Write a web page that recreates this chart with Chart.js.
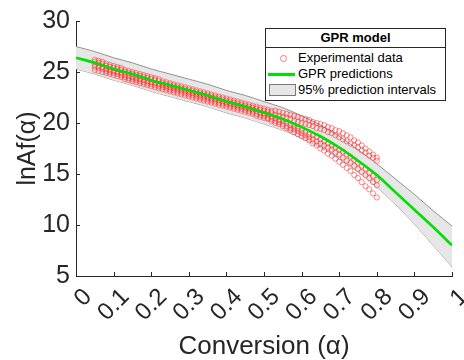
<!DOCTYPE html>
<html>
<head>
<meta charset="utf-8">
<script src="https://cdn.jsdelivr.net/npm/chart.js@4.4.1/dist/chart.umd.min.js"></script>
<style>
    html, body { margin: 0; padding: 0; background: #fff; }
    #wrap { position: relative; width: 464px; height: 360px; }
    #legend {
        position: absolute; left: 265px; top: 28px; width: 179px;
        border: 1px solid #262626; background: #fff;
        font-family: 'Liberation Sans', Arial, sans-serif; font-size: 13px; color: #000;
    }
    #legend .head { height: 18px; line-height: 18px; text-align: center; font-weight: bold; border-bottom: 1px solid #262626; }
    #legend .rows { padding: 2px 0; }
    #legend .row { position: relative; height: 16px; line-height: 16px; }
    #legend .row span.txt { position: absolute; left: 32px; top: 0; white-space: nowrap; }
    #legend .mk { position: absolute; }
</style>
</head>
<body>
<div id="wrap">
    <canvas id="chart" width="464" height="360"></canvas>
    <div id="legend"></div>
</div>
<script>
// conversion values of the measured points
const alphaExp = [0.05, 0.06, 0.07, 0.08, 0.09, 0.10, 0.11, 0.12, 0.13, 0.14, 0.15, 0.16, 0.17, 0.18, 0.19, 0.20,
    0.21, 0.22, 0.23, 0.24, 0.25, 0.26, 0.27, 0.28, 0.29, 0.30, 0.31, 0.32, 0.33, 0.34, 0.35, 0.36, 0.37, 0.38, 0.39, 0.40,
    0.41, 0.42, 0.43, 0.44, 0.45, 0.46, 0.47, 0.48, 0.49, 0.50, 0.51, 0.52, 0.53, 0.54, 0.55, 0.56, 0.57, 0.58, 0.59, 0.60,
    0.61, 0.62, 0.63, 0.64, 0.65, 0.66, 0.67, 0.68, 0.69, 0.70, 0.71, 0.72, 0.73, 0.74, 0.75, 0.76, 0.77, 0.78, 0.79, 0.80];

// lnAf(alpha), one array per experimental run
const expRun1 = [26.2, 26.1, 26.0, 25.8, 25.7, 25.6, 25.5, 25.4, 25.2, 25.1, 25.0, 24.9, 24.8, 24.7, 24.6, 24.5,
    24.4, 24.3, 24.1, 24.0, 23.9, 23.8, 23.7, 23.6, 23.5, 23.4, 23.3, 23.2, 23.1, 23.0, 22.9, 22.8, 22.7, 22.6, 22.5, 22.4,
    22.3, 22.2, 22.1, 22.0, 21.9, 21.8, 21.7, 21.6, 21.5, 21.4, 21.3, 21.2, 21.2, 21.1, 21.0, 20.9, 20.8, 20.7, 20.6, 20.5,
    20.4, 20.3, 20.1, 20.0, 19.9, 19.8, 19.6, 19.5, 19.3, 19.2, 19.0, 18.8, 18.6, 18.3, 18.1, 17.8, 17.5, 17.2, 16.9, 16.6];
const expRun2 = [26.0, 25.9, 25.8, 25.6, 25.5, 25.4, 25.3, 25.2, 25.0, 24.9, 24.8, 24.7, 24.6, 24.5, 24.4, 24.3,
    24.2, 24.1, 23.9, 23.8, 23.7, 23.6, 23.5, 23.4, 23.3, 23.2, 23.1, 23.0, 22.9, 22.8, 22.7, 22.6, 22.5, 22.4, 22.3, 22.2,
    22.1, 22.0, 21.9, 21.8, 21.7, 21.6, 21.5, 21.4, 21.3, 21.2, 21.1, 21.0, 20.8, 20.7, 20.6, 20.5, 20.4, 20.2, 20.1, 20.0,
    19.9, 19.8, 19.7, 19.5, 19.4, 19.3, 19.1, 19.0, 18.8, 18.6, 18.4, 18.2, 18.0, 17.8, 17.6, 17.3, 17.1, 16.8, 16.6, 16.3];
const expRun3 = [25.7, 25.6, 25.5, 25.3, 25.2, 25.1, 25.0, 24.9, 24.7, 24.6, 24.5, 24.4, 24.3, 24.2, 24.1, 24.0,
    23.9, 23.8, 23.7, 23.6, 23.5, 23.4, 23.3, 23.2, 23.1, 23.0, 22.9, 22.8, 22.7, 22.6, 22.5, 22.4, 22.3, 22.2, 22.1, 22.0,
    21.9, 21.8, 21.7, 21.6, 21.5, 21.4, 21.3, 21.2, 21.0, 20.9, 20.8, 20.6, 20.5, 20.3, 20.2, 20.0, 19.8, 19.7, 19.5, 19.3,
    19.1, 18.9, 18.8, 18.6, 18.4, 18.2, 18.0, 17.8, 17.6, 17.4, 17.2, 16.9, 16.7, 16.4, 16.1, 15.8, 15.5, 15.1, 14.8, 14.4];
const expRun4 = [25.5, 25.4, 25.3, 25.1, 25.0, 24.9, 24.8, 24.7, 24.5, 24.4, 24.3, 24.2, 24.1, 24.0, 23.9, 23.8,
    23.7, 23.6, 23.5, 23.4, 23.3, 23.2, 23.1, 23.0, 22.9, 22.8, 22.7, 22.6, 22.5, 22.4, 22.3, 22.2, 22.1, 22.0, 21.9, 21.8,
    21.7, 21.6, 21.5, 21.4, 21.3, 21.2, 21.1, 20.9, 20.8, 20.7, 20.5, 20.4, 20.2, 20.1, 19.9, 19.7, 19.5, 19.4, 19.2, 19.0,
    18.8, 18.6, 18.4, 18.2, 18.0, 17.8, 17.6, 17.4, 17.1, 16.9, 16.6, 16.3, 16.1, 15.8, 15.5, 15.2, 14.9, 14.6, 14.2, 13.9];
const expRun5 = [25.2, 25.1, 25.0, 24.9, 24.8, 24.7, 24.6, 24.5, 24.3, 24.2, 24.1, 24.0, 23.9, 23.8, 23.7, 23.6,
    23.5, 23.4, 23.3, 23.2, 23.1, 23.0, 22.9, 22.8, 22.7, 22.6, 22.5, 22.4, 22.3, 22.2, 22.1, 22.0, 21.9, 21.8, 21.7, 21.6,
    21.5, 21.4, 21.3, 21.2, 21.1, 21.0, 20.9, 20.7, 20.6, 20.5, 20.4, 20.2, 20.0, 19.9, 19.7, 19.5, 19.3, 19.1, 18.9, 18.7,
    18.5, 18.3, 18.0, 17.8, 17.5, 17.3, 17.0, 16.8, 16.5, 16.2, 15.9, 15.6, 15.3, 14.9, 14.6, 14.2, 13.8, 13.5, 13.1, 12.7];

// GPR model on a coarser grid
const alphaGpr = [0, 0.05, 0.10, 0.15, 0.20, 0.25, 0.30, 0.35, 0.40, 0.45, 0.50,
    0.55, 0.60, 0.65, 0.70, 0.75, 0.80, 0.85, 0.90, 0.95, 1.0];
const gprMean = [26.4, 25.9, 25.3, 24.8, 24.2, 23.7, 23.2, 22.7, 22.1, 21.6, 21.0,
    20.4, 19.6, 18.7, 17.6, 16.3, 14.9, 13.2, 11.5, 9.8, 8.0];
const gprUpper = [27.5, 27.0, 26.4, 25.9, 25.3, 24.8, 24.3, 23.8, 23.2, 22.7, 22.1,
    21.5, 20.7, 19.8, 18.7, 17.4, 16.0, 14.5, 13.0, 11.4, 9.9];
const gprLower = [25.3, 24.8, 24.2, 23.7, 23.1, 22.6, 22.1, 21.6, 21.0, 20.5, 19.9,
    19.3, 18.5, 17.6, 16.5, 15.2, 13.7, 12.0, 10.1, 8.0, 5.9];

const xTickLabels = ['0', '0.1', '0.2', '0.3', '0.4', '0.5', '0.6', '0.7', '0.8', '0.9', '1'];
const yTickLabels = ['5', '10', '15', '20', '25', '30'];
const legendLabels = ['Experimental data', 'GPR predictions', '95% prediction intervals'];

const FONT = "'Liberation Sans', Arial, Helvetica, sans-serif";
const AXIS = '#262626';
const RED = 'rgba(255, 40, 40, 0.6)';
const GREEN = '#00e000';
const BAND = '#e6e6e6';
const BAND_EDGE = '#7a7a7a';

function pts(xs, ys) {
    return xs.map((x, i) => ({ x: x, y: ys[i] }));
}

// MATLAB style ticks pointing into the axes
const innerTicks = {
    id: 'innerTicks',
    afterDraw(chart) {
        const { ctx, chartArea, scales } = chart;
        ctx.save();
        ctx.strokeStyle = AXIS;
        ctx.lineWidth = 1;
        ctx.beginPath();
        scales.x.ticks.forEach(t => {
            const px = Math.round(scales.x.getPixelForValue(t.value)) + 0.5;
            ctx.moveTo(px, chartArea.bottom);
            ctx.lineTo(px, chartArea.bottom - 4);
        });
        scales.y.ticks.forEach(t => {
            const py = Math.round(scales.y.getPixelForValue(t.value)) + 0.5;
            ctx.moveTo(chartArea.left, py);
            ctx.lineTo(chartArea.left + 4, py);
        });
        ctx.stroke();
        ctx.restore();
    }
};

function expDataset(ys) {
    return {
        label: legendLabels[0],
        data: pts(alphaExp, ys),
        showLine: false,
        pointStyle: 'circle',
        pointRadius: 2.6,
        pointBorderWidth: 0.9,
        pointBorderColor: RED,
        pointBackgroundColor: 'rgba(0,0,0,0)',
        order: 2
    };
}

function curve(label, ys, color, width, extra) {
    return Object.assign({
        label: label,
        data: pts(alphaGpr, ys),
        showLine: true,
        borderColor: color,
        borderWidth: width,
        pointRadius: 0,
        cubicInterpolationMode: 'monotone',
        fill: false
    }, extra);
}

const last = alphaGpr.length - 1;

new Chart(document.getElementById('chart'), {
    type: 'scatter',
    data: {
        datasets: [
            curve(legendLabels[1], gprMean, GREEN, 2.6, { order: 1 }),
            expDataset(expRun1),
            expDataset(expRun2),
            expDataset(expRun3),
            expDataset(expRun4),
            expDataset(expRun5),
            curve(legendLabels[2], gprUpper, BAND_EDGE, 0.8, { order: 3, fill: '+1', backgroundColor: BAND }),
            curve('lower', gprLower, BAND_EDGE, 0.8, { order: 3 }),
            {
                label: 'edge',
                data: [{ x: alphaGpr[last], y: gprUpper[last] }, { x: alphaGpr[last], y: gprLower[last] }],
                showLine: true,
                borderColor: BAND_EDGE,
                borderWidth: 0.8,
                pointRadius: 0,
                fill: false,
                order: 3
            }
        ]
    },
    options: {
        responsive: false,
        animation: false,
        layout: { padding: { top: 21, right: 12, left: 0, bottom: 0 } },
        plugins: {
            legend: { display: false },
            tooltip: { enabled: false }
        },
        scales: {
            x: {
                type: 'linear',
                min: 0,
                max: 1,
                grid: { display: false, drawTicks: false },
                border: { display: true, color: AXIS, width: 1 },
                ticks: {
                    stepSize: 0.1,
                    autoSkip: false,
                    minRotation: 45,
                    maxRotation: 45,
                    padding: 7,
                    labelOffset: 12,
                    color: AXIS,
                    font: { family: FONT, size: 24 },
                    callback: (v, i) => xTickLabels[i]
                },
                title: {
                    display: true,
                    text: 'Conversion (α)',
                    color: AXIS,
                    padding: 0,
                    font: { family: FONT, size: 26, lineHeight: 1 }
                },
                afterFit(s) {
                    s.height = 84;
                    s.paddingLeft = 0;
                    s.paddingRight = 0;
                }
            },
            y: {
                type: 'linear',
                min: 5,
                max: 30,
                grid: { display: false, drawTicks: false },
                border: { display: true, color: AXIS, width: 1 },
                ticks: {
                    stepSize: 5,
                    padding: 6,
                    color: AXIS,
                    font: { family: FONT, size: 25 },
                    callback: (v, i) => yTickLabels[i]
                },
                title: {
                    display: true,
                    text: 'lnAf(α)',
                    color: AXIS,
                    padding: { top: 16, bottom: 0 },
                    font: { family: FONT, size: 25, lineHeight: 1 }
                },
                afterFit(s) {
                    s.width = 76;
                    s.paddingTop = 0;
                    s.paddingBottom = 0;
                }
            }
        }
    },
    plugins: [innerTicks]
});

// legend box drawn in html on top of the plot
const legend = document.getElementById('legend');
legend.innerHTML =
    '<div class="head">GPR model</div>' +
    '<div class="rows">' +
    '<div class="row"><span class="mk" style="left:14px;top:5px;width:4.5px;height:4.5px;border:0.9px solid ' + RED + ';border-radius:50%"></span>' +
    '<span class="txt">' + legendLabels[0] + '</span></div>' +
    '<div class="row"><span class="mk" style="left:2px;top:7px;width:27px;height:2.6px;background:' + GREEN + '"></span>' +
    '<span class="txt">' + legendLabels[1] + '</span></div>' +
    '<div class="row"><span class="mk" style="left:3px;top:2px;width:25px;height:10px;background:' + BAND + ';border:1px solid ' + BAND_EDGE + '"></span>' +
    '<span class="txt">' + legendLabels[2] + '</span></div>' +
    '</div>';
</script>
</body>
</html>
